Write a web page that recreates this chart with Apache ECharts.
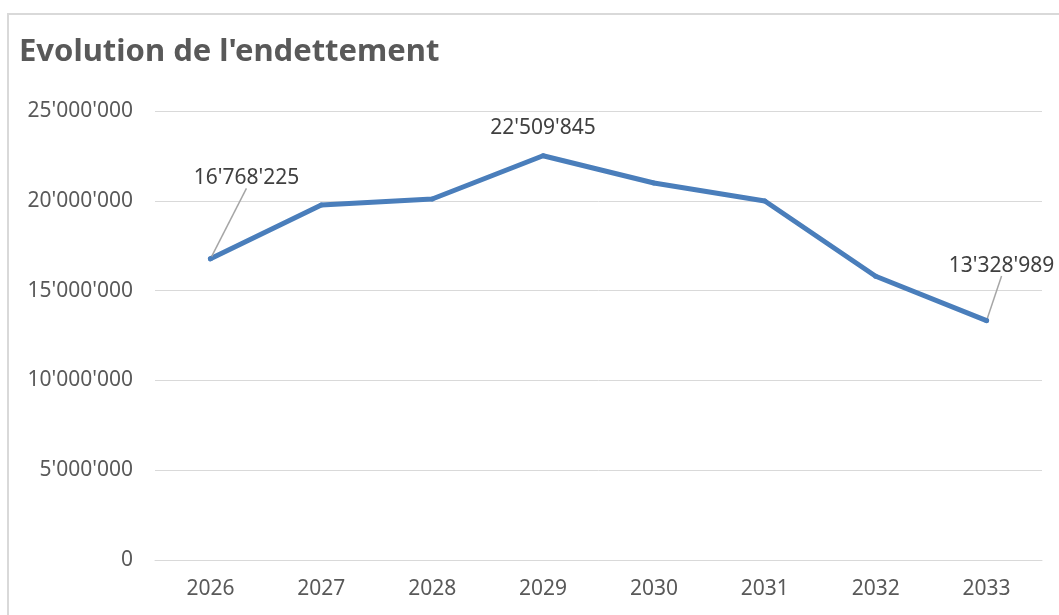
<!DOCTYPE html>
<html>
<head>
<meta charset="utf-8">
<script src="https://cdn.jsdelivr.net/npm/echarts@6/dist/echarts.min.js"></script>
<style>
  html, body { margin: 0; padding: 0; background: #fff; }
  #chart { width: 1059px; height: 615px; }
</style>
</head>
<body>
<div id="chart"></div>
<script>
// données
const years = ['2026', '2027', '2028', '2029', '2030', '2031', '2032', '2033']
const dette = [16768225, 19770000, 20100000, 22509845, 20990000, 19990000, 15800000, 13328989]
const labelled = [0, 3, 7]

// 25000000 -> 25'000'000
const fmt = v => String(Math.round(v)).replace(/\B(?=(\d{3})+(?!\d))/g, "'")

const font = '"Noto Sans", sans-serif'
const chart = echarts.init(document.getElementById('chart'), null, { renderer: 'canvas' })

chart.setOption({
  backgroundColor: '#fff',
  animation: false,
  title: {
    text: "Evolution de l'endettement",
    left: 14,
    top: 32,
    textStyle: {
      fontFamily: font,
      fontSize: 31,
      fontWeight: 'bold',
      color: '#595959'
    }
  },
  graphic: [{
    type: 'rect',
    silent: true,
    shape: { x: 8, y: 14, width: 1200, height: 800 },
    style: { fill: 'none', stroke: '#d9d9d9', lineWidth: 2 }
  }],
  grid: { left: 155, right: 17, top: 111, bottom: 55, outerBoundsMode: 'none' },
  xAxis: {
    type: 'category',
    data: years,
    axisLine: { lineStyle: { color: '#d9d9d9' } },
    axisTick: { show: false },
    axisLabel: { color: '#595959', fontSize: 21, fontFamily: font, margin: 19 }
  },
  yAxis: {
    type: 'value',
    min: 0,
    max: 25000000,
    interval: 5000000,
    axisLine: { show: false },
    axisTick: { show: false },
    splitLine: { lineStyle: { color: '#d9d9d9', width: 1 } },
    axisLabel: { color: '#595959', fontSize: 21, fontFamily: font, margin: 22, formatter: fmt }
  },
  series: [{
    type: 'line',
    data: dette.map((v, i) => ({
      value: v,
      label: { show: labelled.includes(i) },
      labelLine: { show: i !== 3 }
    })),
    symbol: 'circle',
    symbolSize: 5,
    lineStyle: { color: '#4a7ebb', width: 5, cap: 'round', join: 'round' },
    itemStyle: { color: '#4a7ebb' },
    label: {
      position: 'top',
      distance: 5,
      color: '#404040',
      fontSize: 21,
      fontFamily: font,
      formatter: p => fmt(p.value)
    },
    labelLine: { lineStyle: { color: '#a6a6a6', width: 1.5 } },
    labelLayout: p => {
      if (p.dataIndex === 0) return { dx: 36, dy: -63 }
      if (p.dataIndex === 7) return { dx: 15, dy: -37 }
      return { dy: -10 }
    }
  }]
})
</script>
</body>
</html>
